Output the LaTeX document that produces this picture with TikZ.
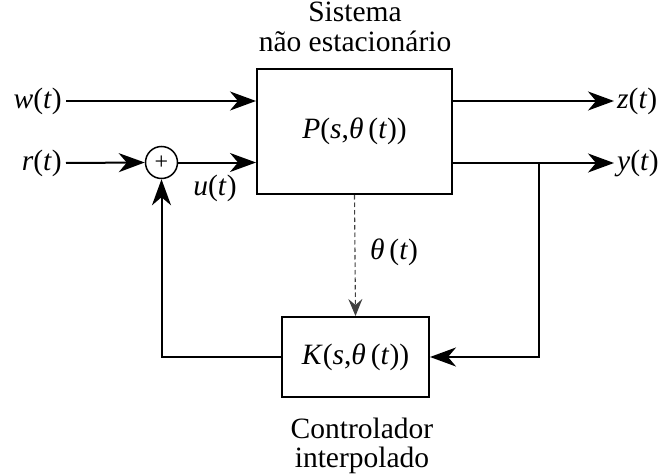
\documentclass[tikz,border=0pt]{standalone}
\usepackage{fontspec}
\setmainfont{Liberation Serif}
\usetikzlibrary{arrows.meta}
% italic variable inside an upright formula
\newcommand\vr[1]{\textit{#1}}
\begin{document}
\begin{tikzpicture}[x=1pt,y=-1pt,
  every node/.style={font=\fontsize{29.5}{32}\selectfont},
  sig/.style={line width=2pt, -{Stealth[length=26pt,width=19pt,inset=8pt]}},
  dsh/.style={line width=1.1pt, draw=black!75, dash pattern=on 4.5pt off 3pt,
              -{Stealth[length=17pt,width=14pt,inset=6pt]}},
  blk/.style={draw, line width=2pt, inner sep=0pt},
  sumnode/.style={circle, draw, line width=1.5pt, minimum size=32pt, inner sep=0pt},
  lbl/.style={inner sep=0pt}]
\useasboundingbox (0,0) rectangle (669,476);

% blocks
\node[blk, minimum width=195pt, minimum height=125pt] (P) at (354.5,131.5)
  {\vr{P}(\vr{s},\vr{θ}\,(\vr{t}))};
\node[blk, minimum width=147pt, minimum height=80pt] (K) at (355.5,357)
  {\vr{K}(\vr{s},\vr{θ}\,(\vr{t}))};
\node[sumnode] (S) at (161.5,162.5) {\fontsize{24}{24}\selectfont +};

% captions
\node[lbl, anchor=base] (cap1) at (355,22) {Sistema};
\node[lbl, anchor=base] (cap2) at (355,52) {não estacionário};
\node[lbl, anchor=base] (cap3) at (362,438) {Controlador};
\node[lbl, anchor=base] (cap4) at (362,467) {interpolado};

% signal labels
\node[lbl, anchor=east, inner xsep=4pt] (w) at (66,101) {\vr{w}(\vr{t})};
\node[lbl, anchor=east, inner xsep=4pt] (r) at (66,163) {\vr{r}(\vr{t})};
\node[lbl, anchor=west, inner xsep=3pt] (z) at (614,101) {\vr{z}(\vr{t})};
\node[lbl, anchor=west, inner xsep=3pt] (y) at (614,163) {\vr{y}(\vr{t})};
\node[lbl] (u) at (215,188) {\vr{u}(\vr{t})};
\node[lbl] (th) at (394,252) {\vr{θ}\,(\vr{t})};

% branch point of the output y
\coordinate (br) at (539,163);

% connectors
\draw[sig] (w.east) -- (w.east -| P.west);
\draw[sig] (r.east) -- (S.west);
\draw[sig] (S.east) -- (S.east -| P.west);
\draw[sig] (P.east |- z.west) -- (z.west);
\draw[sig] (P.east |- y.west) -- (y.west);
\draw[sig] (br) |- (K.east);
\draw[sig] (K.west) -| (S.south);
\draw[dsh] (P.south) -- (K.north);
\end{tikzpicture}
\end{document}
